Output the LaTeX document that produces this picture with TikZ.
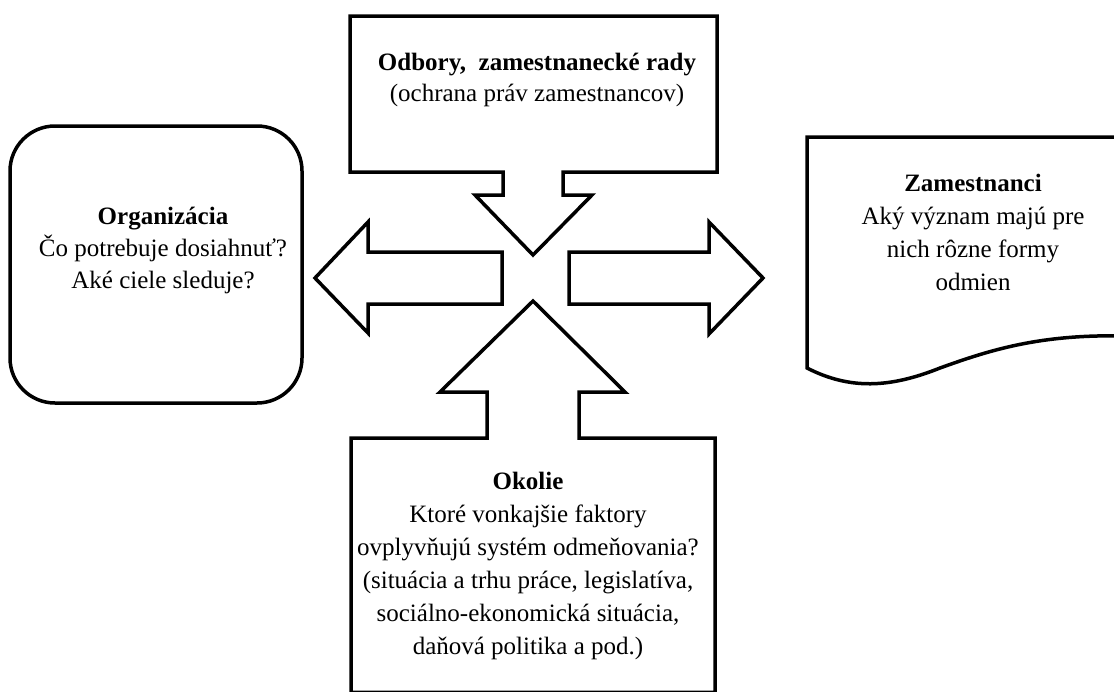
\documentclass[tikz,border=0pt]{standalone}
\usepackage{fontspec}
\setmainfont{Liberation Serif}
\begin{document}
\begin{tikzpicture}[x=1pt,y=-1pt,
  shapeline/.style={draw=black, line width=3.5pt, fill=white, line join=miter},
  lbl/.style={align=center, font=\fontsize{25}{33}\selectfont, inner sep=0pt}]
\useasboundingbox (0,0) rectangle (1114,691);
\clip (0,0) rectangle (1114,691);
% left rounded box
\draw[shapeline, rounded corners=45pt] (10,126) rectangle (302,403);
% top callout
\draw[shapeline] (350,16) -- (717,16) -- (717,172) -- (563,172) -- (563,195) -- (592,195) -- (533,255) -- (475,195) -- (503,195) -- (503,172) -- (350,172) -- cycle;
% left arrow
\draw[shapeline] (502,252) -- (368,252) -- (368,222) -- (315,278) -- (368,333) -- (368,304) -- (502,304) -- cycle;
% right arrow
\draw[shapeline] (569,252) -- (709,252) -- (709,222) -- (763,278) -- (709,334) -- (709,304) -- (569,304) -- cycle;
% bottom callout
\draw[shapeline] (351,692.3) -- (351,438) -- (487,438) -- (487,392) -- (440,392) -- (533,301) -- (625,392) -- (579,392) -- (579,438) -- (715,438) -- (715,692.3) -- cycle;
% right document
\draw[shapeline] (807,137) -- (1125,137) -- (1125,336) .. controls (1040,334) and (990,350) .. (940,368) .. controls (890,388) and (850,390) .. (807,368) -- cycle;
% labels
\node[lbl] (top) at (537,80) {\textbf{Odbory,~ zamestnanecké rady}\\[-2pt](ochrana práv zamestnancov)};
\node[lbl] (org) at (163,250) {\textbf{Organizácia}\\[-1pt]Čo potrebuje dosiahnuť?\\[-1pt]Aké ciele sleduje?};
\node[lbl] (zam) at (973,232) {\textbf{Zamestnanci}\\Aký význam majú pre\\nich rôzne formy\\odmien};
\node[lbl] (oko) at (528,566) {\textbf{Okolie}\\Ktoré vonkajšie faktory\\ovplyvňujú systém odmeňovania?\\(situácia a trhu práce, legislatíva,\\sociálno-ekonomická situácia,\\daňová politika a pod.)};
\end{tikzpicture}
\end{document}
